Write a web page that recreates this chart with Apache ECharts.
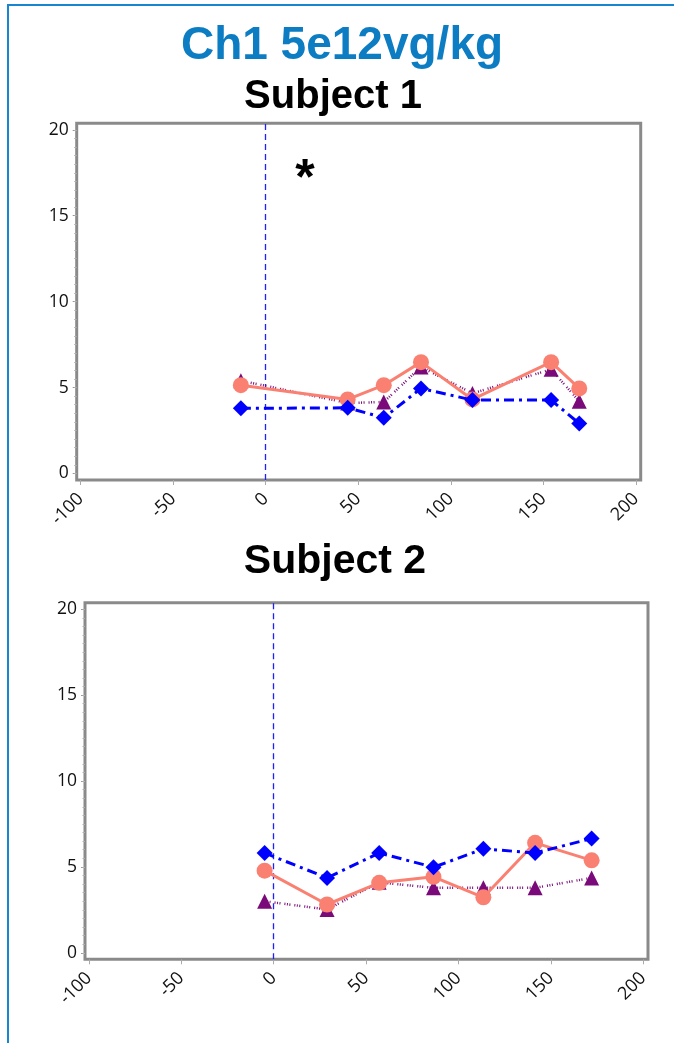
<!DOCTYPE html>
<html><head><meta charset="utf-8">
<script src="https://cdn.jsdelivr.net/npm/echarts@6/dist/echarts.min.js"></script>
<style>html,body{margin:0;padding:0;background:#fff}#c{width:674px;height:1043px}</style>
</head><body><div id="c"></div>
<script>
// ---- data ----
const xTicks = [-100, -50, 0, 50, 100, 150, 200];
const yTicks = [0, 5, 10, 15, 20];
const yMinorTicks = [];
for (let v = 0; v <= 20; v += 0.5) yMinorTicks.push(v);

const s1Days   = [-13.4, 44.3, 63.8, 83.9, 111.7, 154.2, 169.4];
const s1Salmon = [5.14, 4.31, 5.14, 6.48, 4.31, 6.48, 4.95];
const s1Blue   = [3.79, 3.82, 3.24, 4.95, 4.27, 4.27, 2.91];
const s1Purple = [5.40, 4.10, 4.16, 6.20, 4.66, 6.06, 4.20];

const s2Days   = [-4.9, 28.9, 57.1, 86.5, 113.5, 141.5, 172.1];
const s2Salmon = [4.78, 2.81, 4.07, 4.42, 3.23, 6.40, 5.38];
const s2Blue   = [5.81, 4.36, 5.81, 4.98, 6.05, 5.81, 6.65];
const s2Purple = [3.00, 2.52, 4.10, 3.78, 3.78, 3.78, 4.36];

const mainTitle = 'Ch1 5e12vg/kg';
const subjectTitles = ['Subject 1', 'Subject 2'];

// ---- styles ----
const labelFont = "'Open Sans', 'Noto Sans', sans-serif";
const titleFont = "'Liberation Sans', Arial, sans-serif";
const zip = (xs, ys) => xs.map((x, i) => [x, ys[i]]);

const grids = [
  {left: 76.7, top: 123.3, width: 564, height: 356.7},
  {left: 85, top: 602.7, width: 563, height: 356.6}
];
const subjects = [
  {days: s1Days, salmon: s1Salmon, blue: s1Blue, purple: s1Purple},
  {days: s2Days, salmon: s2Salmon, blue: s2Blue, purple: s2Purple}
];

const option = {
  animation: false,
  backgroundColor: '#fff',
  grid: grids.map(g => Object.assign({show: true, borderColor: '#8a8a8a', borderWidth: 3, backgroundColor: '#fff'}, g)),
  xAxis: grids.map((g, i) => ({
    gridIndex: i, type: 'value', min: -102.1, max: 202.6, position: 'bottom',
    axisLine: {show: false, onZero: false}, splitLine: {show: false},
    axisTick: {show: true, customValues: xTicks, length: 5, lineStyle: {color: '#aaaaaa', width: 1}},
    axisLabel: {customValues: xTicks, rotate: 45, margin: 16, fontFamily: labelFont, fontSize: 18, color: '#111'}
  })),
  yAxis: [].concat(...grids.map((g, i) => ([
    {
      gridIndex: i, type: 'value', min: -0.38, max: 20.38, position: 'left',
      axisLine: {show: false, onZero: false}, splitLine: {show: false},
      axisTick: {show: true, customValues: yTicks, length: 4, lineStyle: {color: '#999999', width: 1}},
      axisLabel: {customValues: yTicks, margin: 8, fontFamily: labelFont, fontSize: 17.5, color: '#111'}
    },
    {
      gridIndex: i, type: 'value', min: -0.38, max: 20.38, position: 'left', offset: 0,
      axisLine: {show: false, onZero: false}, splitLine: {show: false},
      axisTick: {show: true, customValues: yMinorTicks, length: 2.5, lineStyle: {color: '#b0b0b0', width: 1}},
      axisLabel: {show: false}
    }
  ]))),
  series: [].concat(...subjects.map((s, i) => ([
    {
      type: 'line', xAxisIndex: i, yAxisIndex: i * 2, z: 2,
      data: zip(s.days, s.purple),
      symbol: 'triangle', symbolSize: 15,
      itemStyle: {color: '#7a0a7a'},
      lineStyle: {color: '#7a0a7a', width: 2.5, type: [1, 1.5, 1, 1.5, 1, 4]}
    },
    {
      type: 'line', xAxisIndex: i, yAxisIndex: i * 2, z: 3,
      data: zip(s.days, s.salmon),
      symbol: 'circle', symbolSize: 16,
      itemStyle: {color: '#fa8072'},
      lineStyle: {color: '#fa8072', width: 3, type: 'solid'}
    },
    {
      type: 'line', xAxisIndex: i, yAxisIndex: i * 2, z: 4,
      data: zip(s.days, s.blue),
      symbol: 'diamond', symbolSize: 16,
      itemStyle: {color: '#0000ff'},
      lineStyle: {color: '#0000ff', width: 3, type: [10, 5, 3, 5]},
      markLine: {
        silent: true, symbol: 'none', label: {show: false}, z: 1,
        lineStyle: {color: '#1f1fff', width: 1.3, type: [6, 4], opacity: 1},
        data: [{xAxis: 0}]
      }
    }
  ]))),
  graphic: [
    {type: 'rect', z: 0, silent: true, shape: {x: 8, y: 5, width: 800, height: 1200},
     style: {fill: 'none', stroke: '#1686d2', lineWidth: 2}},
    {type: 'text', x: 342, y: 46, silent: true,
     style: {text: mainTitle, fill: '#0d7dc3', font: 'bold 46px ' + titleFont, align: 'center', verticalAlign: 'middle'}},
    {type: 'text', x: 333, y: 97, silent: true,
     style: {text: subjectTitles[0], fill: '#000', font: 'bold 40px ' + titleFont, align: 'center', verticalAlign: 'middle'}},
    {type: 'text', x: 335, y: 562, silent: true,
     style: {text: subjectTitles[1], fill: '#000', font: 'bold 41px ' + titleFont, align: 'center', verticalAlign: 'middle'}},
    {type: 'text', x: 305, y: 180, silent: true,
     style: {text: '*', fill: '#000', font: 'bold 50px ' + titleFont, align: 'center', verticalAlign: 'middle'}}
  ]
};

const chart = echarts.init(document.getElementById('c'), null, {renderer: 'canvas'});
chart.setOption(option);
</script>
</body></html>
